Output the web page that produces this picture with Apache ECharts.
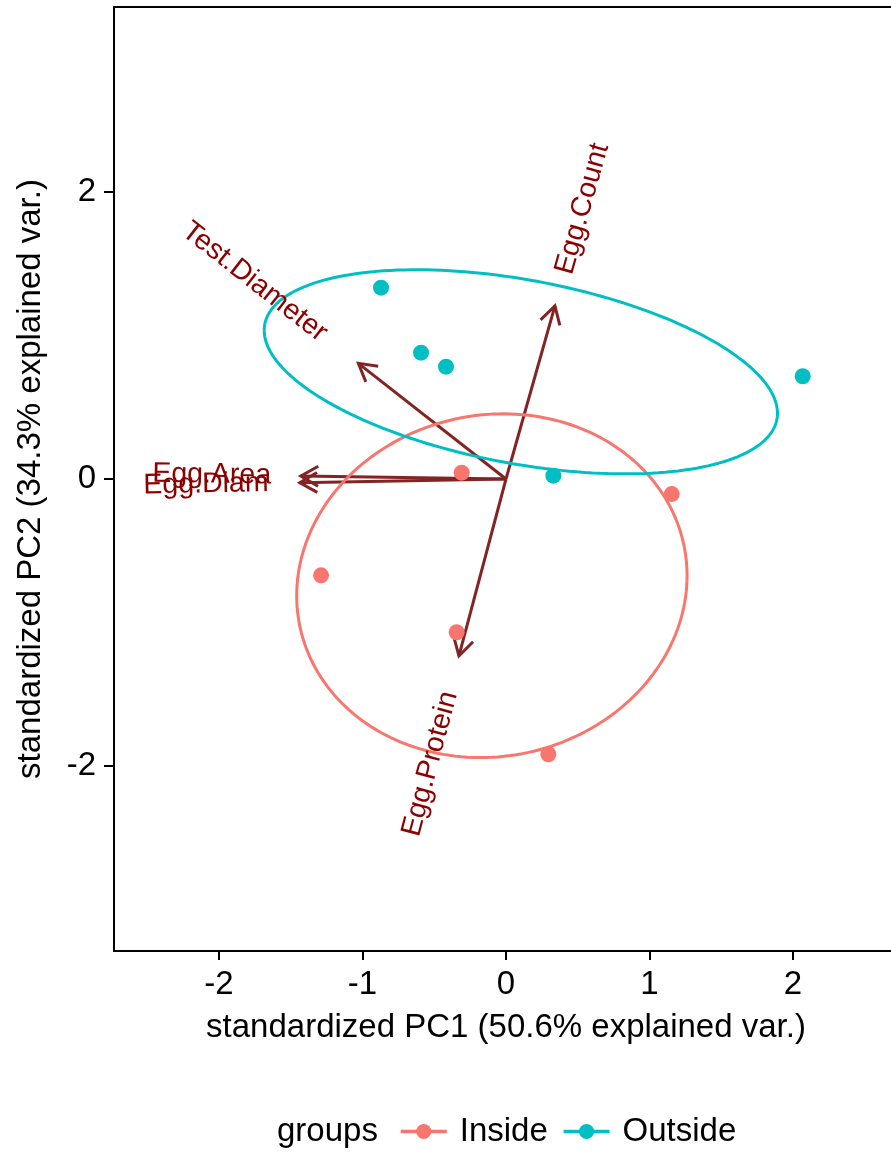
<!DOCTYPE html>
<html>
<head>
<meta charset="utf-8">
<title>PCA biplot</title>
<script src="https://cdn.jsdelivr.net/npm/echarts@6/dist/echarts.min.js"></script>
<style>
  html, body { margin: 0; padding: 0; background: #ffffff; }
  #chart { width: 891px; height: 1152px; }
</style>
</head>
<body>
<div id="chart"></div>
<script>
// Sample scores on the first two standardized principal components
const insidePC1 = [-0.309, 1.155, -1.289, -0.344, 0.295];
const insidePC2 = [0.044, -0.105, -0.671, -1.068, -1.918];
const outsidePC1 = [-0.871, -0.592, -0.418, 0.330, 2.068];
const outsidePC2 = [1.333, 0.880, 0.783, 0.023, 0.716];

// Variable loadings (arrow tips)
const varNames = ['Egg.Count', 'Test.Diameter', 'Egg.Area', 'Egg.Diam', 'Egg.Protein'];
const varPC1 = [0.341, -1.029, -1.430, -1.437, -0.328];
const varPC2 = [1.206, 0.806, 0.021, -0.026, -1.233];

const groupNames = ['Inside', 'Outside'];
const xTicks = [-2, -1, 0, 1, 2];
const yTicks = [-2, 0, 2];
const xTitle = 'standardized PC1 (50.6% explained var.)';
const yTitle = 'standardized PC2 (34.3% explained var.)';
const legendTitle = 'groups';

// Coverage probability of the normal-data ellipse drawn around each group
const ELLIPSE_PROB = 0.68;

const COLORS = { Inside: '#F8766D', Outside: '#00BFC4' };
const ARROW_COLOR = '#832424';
const VAR_LABEL_COLOR = '#8B0000';
const FONT = '"Liberation Sans", Arial, Helvetica, sans-serif';
const VAR_FONT_SIZE = 28.5;
const TEXT_SIZE = 33;

function mean(a) { return a.reduce((s, v) => s + v, 0) / a.length; }

// Ellipse from the group's sample covariance (Cholesky of sigma scaled by chi-square radius)
function groupEllipse(xs, ys, prob, n) {
  const mx = mean(xs), my = mean(ys), m = xs.length;
  let sxx = 0, syy = 0, sxy = 0;
  for (let i = 0; i < m; i++) {
    const dx = xs[i] - mx, dy = ys[i] - my;
    sxx += dx * dx; syy += dy * dy; sxy += dx * dy;
  }
  sxx /= (m - 1); syy /= (m - 1); sxy /= (m - 1);
  const a = Math.sqrt(sxx), b = sxy / a, c = Math.sqrt(syy - b * b);
  const ed = Math.sqrt(-2 * Math.log(1 - prob));
  const pts = [];
  for (let k = 0; k <= n; k++) {
    const t = -Math.PI + 2 * Math.PI * k / n;
    const ct = Math.cos(t), st = Math.sin(t);
    pts.push([mx + ed * ct * a, my + ed * (ct * b + st * c)]);
  }
  return pts;
}

function pairs(xs, ys) { return xs.map((x, i) => [x, ys[i]]); }

const measureCtx = document.createElement('canvas').getContext('2d');
function textWidth(str, size) {
  measureCtx.font = size + 'px ' + FONT;
  return measureCtx.measureText(str).width;
}

const scores = {
  Inside: pairs(insidePC1, insidePC2),
  Outside: pairs(outsidePC1, outsidePC2)
};
const loadings = pairs(varPC1, varPC2);

const chart = echarts.init(document.getElementById('chart'), null, { renderer: 'canvas' });

const ellipseSeries = groupNames.map(g => ({
  type: 'line',
  name: g,
  data: groupEllipse(g === 'Inside' ? insidePC1 : outsidePC1,
                     g === 'Inside' ? insidePC2 : outsidePC2, ELLIPSE_PROB, 200),
  showSymbol: false,
  symbol: 'circle',
  smooth: false,
  lineStyle: { color: COLORS[g], width: 3 },
  itemStyle: { color: COLORS[g] },
  z: 3,
  silent: true
}));

const scatterSeries = groupNames.map(g => ({
  type: 'scatter',
  name: g,
  data: scores[g],
  symbol: 'circle',
  symbolSize: 16,
  itemStyle: { color: COLORS[g], opacity: 1 },
  z: 2,
  silent: true
}));

const arrowSeries = {
  type: 'custom',
  name: 'loadings',
  coordinateSystem: 'cartesian2d',
  data: loadings,
  encode: { x: 0, y: 1 },
  z: 1,
  silent: true,
  renderItem: function (params, api) {
    const o = api.coord([0, 0]);
    const t = api.coord([api.value(0), api.value(1)]);
    const ang = Math.atan2(t[1] - o[1], t[0] - o[0]);
    const L = 20, spread = Math.PI / 6;
    const h1 = [t[0] - L * Math.cos(ang - spread), t[1] - L * Math.sin(ang - spread)];
    const h2 = [t[0] - L * Math.cos(ang + spread), t[1] - L * Math.sin(ang + spread)];
    return {
      type: 'group',
      children: [
        { type: 'line', shape: { x1: o[0], y1: o[1], x2: t[0], y2: t[1] },
          style: { stroke: ARROW_COLOR, lineWidth: 3 } },
        { type: 'polyline', shape: { points: [h1, t, h2] },
          style: { stroke: ARROW_COLOR, lineWidth: 3, fill: null } }
      ]
    };
  }
};

// Variable names, rotated along each arrow and pushed beyond its tip
const labelSeries = {
  type: 'custom',
  name: 'variable names',
  coordinateSystem: 'cartesian2d',
  data: loadings,
  encode: { x: 0, y: 1 },
  z: 4,
  silent: true,
  clip: false,
  renderItem: function (params, api) {
    const x = api.value(0), y = api.value(1);
    const t = api.coord([x, y]);
    const name = varNames[params.dataIndex];
    const w = textWidth(name, VAR_FONT_SIZE);
    const left = x < 0;
    return {
      type: 'group',
      x: t[0], y: t[1],
      rotation: Math.atan(y / x),
      children: [{
        type: 'text',
        x: left ? -0.25 * w : 0.25 * w,
        y: 0,
        style: {
          text: name,
          fill: VAR_LABEL_COLOR,
          fontSize: VAR_FONT_SIZE,
          fontFamily: FONT,
          align: left ? 'right' : 'left',
          verticalAlign: 'middle'
        }
      }]
    };
  }
};

const axisText = { color: '#000000', fontSize: TEXT_SIZE, fontFamily: FONT };

chart.setOption({
  animation: false,
  backgroundColor: '#ffffff',
  textStyle: { fontFamily: FONT },
  title: {
    text: legendTitle,
    left: 277,
    top: 1115,
    padding: 0,
    textStyle: { color: '#000000', fontSize: TEXT_SIZE, fontWeight: 'normal', fontFamily: FONT }
  },
  legend: {
    data: groupNames,
    left: 399,
    top: 1115,
    padding: 0,
    itemWidth: 46,
    itemHeight: 19,
    itemGap: 14,
    lineStyle: { width: 3.5 },
    textStyle: { color: '#000000', fontSize: TEXT_SIZE, fontFamily: FONT, padding: [0, 0, 0, 8] },
    selectedMode: false
  },
  grid: {
    left: 114, top: 7, width: 784, height: 944,
    show: true, borderColor: '#000000', borderWidth: 2,
    backgroundColor: 'transparent',
    containLabel: false, outerBoundsMode: 'none'
  },
  xAxis: {
    type: 'value',
    min: -2.732, max: 2.732,
    name: xTitle,
    nameLocation: 'middle',
    nameGap: 60,
    nameTextStyle: axisText,
    axisLine: { show: true, onZero: false, lineStyle: { color: '#000000', width: 2 } },
    axisTick: { show: true, customValues: xTicks, length: 9, inside: false,
                lineStyle: { color: '#000000', width: 2 } },
    axisLabel: { customValues: xTicks, margin: 17, ...axisText },
    splitLine: { show: false }
  },
  yAxis: {
    type: 'value',
    min: -3.289, max: 3.289,
    name: yTitle,
    nameLocation: 'middle',
    nameRotate: 90,
    nameGap: 67,
    nameTextStyle: axisText,
    axisLine: { show: true, onZero: false, lineStyle: { color: '#000000', width: 2 } },
    axisTick: { show: true, customValues: yTicks, length: 10, inside: false,
                lineStyle: { color: '#000000', width: 2 } },
    axisLabel: { customValues: yTicks, margin: 18, ...axisText },
    splitLine: { show: false }
  },
  series: [arrowSeries, ...ellipseSeries, ...scatterSeries, labelSeries]
});
</script>
</body>
</html>
